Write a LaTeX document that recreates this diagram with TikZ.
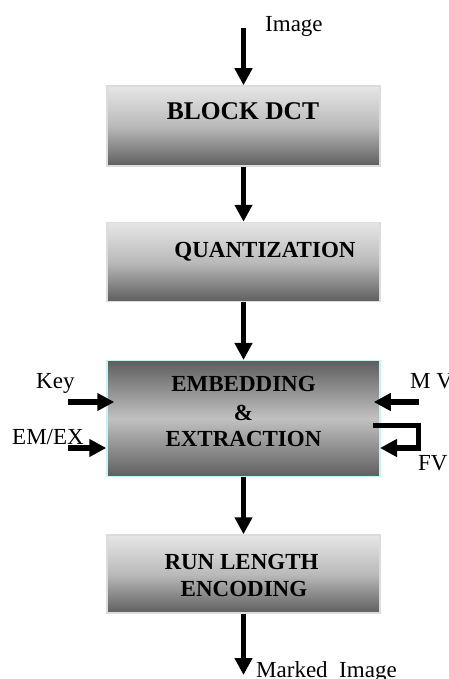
\documentclass[tikz,border=0pt]{standalone}
\usepackage{fontspec}
\setmainfont{Liberation Serif}
\usetikzlibrary{arrows.meta}
\definecolor{wmLight}{HTML}{E6E6E6}
\definecolor{wmMid}{HTML}{BABABA}
\definecolor{wmDark}{HTML}{5E5E5E}
\definecolor{wmEdge}{HTML}{DCDCDC}
\definecolor{wmCyan}{HTML}{C6F4F4}
\tikzset{
  wm box/.style={draw=wmEdge, line width=1.5pt, top color=wmLight, bottom color=wmDark, middle color=wmMid, minimum width=273pt, inner sep=0pt},
  wm core/.style={draw=wmCyan, line width=1.5pt, top color=wmDark, bottom color=wmDark, middle color=wmMid!90!white, minimum width=273pt, minimum height=116pt, inner sep=0pt},
  wm flow/.style={line width=5.5pt, -{Triangle[length=17pt,width=17pt]}},
  wm title/.style={font=\fontsize{23}{23}\selectfont\bfseries, anchor=base, inner sep=0pt},
  wm label/.style={font=\fontsize{23}{23}\selectfont, anchor=base west, inner sep=0pt},
}

\begin{document}
\begin{tikzpicture}[x=1pt, y=-1pt]
  \useasboundingbox (0,0) rectangle (449,679);

  % Processing blocks
  \node[wm box, minimum height=80pt] (dct) at (243.5,126) {};
  \node[wm box, minimum height=79pt] (quant) at (243.5,262) {};
  \node[wm core] (core) at (243.5,418.7) {};
  \node[wm box, minimum height=78pt] (rle) at (243.5,574) {};

  % Block texts
  \node[wm title, font=\fontsize{25.5}{25.5}\selectfont\bfseries] (dcttext) at (243,120) {BLOCK DCT};
  \node[wm title] (quanttext) at (265,257) {QUANTIZATION};
  \node[wm title] (embtext) at (243.5,391.7) {EMBEDDING};
  \node[wm title] (amptext) at (243.5,420) {\&};
  \node[wm title] (exttext) at (243.5,446) {EXTRACTION};
  \node[wm title] (runtext) at (241.5,569) {RUN LENGTH};
  \node[wm title] (enctext) at (244,596) {ENCODING};

  % Outer labels
  \node[wm label] (imglabel) at (265,31.7) {Image};
  \node[wm label] (keylabel) at (36,388) {Key};
  \node[wm label] (modelabel) at (12,444) {EM/EX};
  \node[wm label] (mvlabel) at (410,388) {M V};
  \node[wm label] (fvlabel) at (418,470) {FV};
  \node[wm label] (outlabel) at (256,677) {Marked~~Image};

  % Main flow
  \coordinate (img) at (243.5,28);
  \coordinate (out) at (243.5,675);
  \draw[wm flow] (img) -- (dct);
  \draw[wm flow] (dct) -- (quant);
  \draw[wm flow] (quant) -- (core);
  \draw[wm flow] (core) -- (rle);
  \draw[wm flow] (rle) -- (out);

  % Side inputs
  \coordinate (key) at (68,402);
  \coordinate (mode) at (68,448);
  \coordinate (mv) at (419,402);
  \coordinate (fvout) at (373,425.3);
  \coordinate (fvin) at (380,448);
  \draw[wm flow] (key) -- ([xshift=8pt]key -| core.west);
  \draw[wm flow] (mode) -- (mode -| core.west);
  \draw[wm flow] (mv) -- ([xshift=-7pt]mv -| core.east);
  \draw[wm flow] (fvout) -- ++(45.5,0) |- (fvin);
\end{tikzpicture}
\end{document}
